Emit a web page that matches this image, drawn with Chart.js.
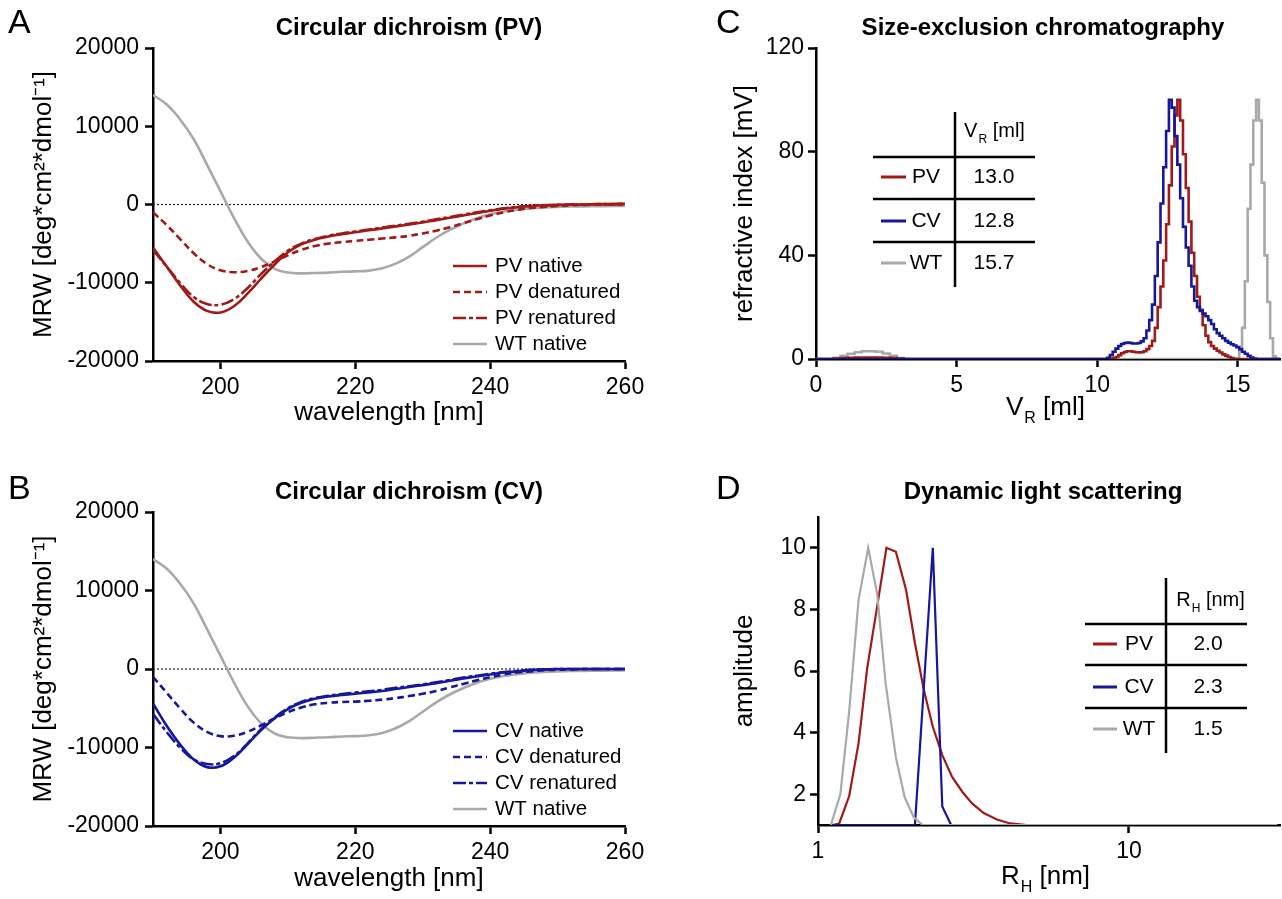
<!DOCTYPE html>
<html><head><meta charset="utf-8">
<script src="https://cdn.jsdelivr.net/npm/chart.js@4.4.1/dist/chart.umd.min.js"></script>
<style>
html,body{margin:0;padding:0;background:#fff;width:1282px;height:899px;overflow:hidden;position:relative;}
canvas{position:absolute;}
</style></head><body>
<canvas id="cA"></canvas><canvas id="cB"></canvas><canvas id="cC"></canvas><canvas id="cD"></canvas>
<script>
const FONT = "'Liberation Sans', Arial, Helvetica, sans-serif";
const RED = '#a01a1a', BLUE = '#17179c', GRAY = '#a9a9a9';

// ---- Circular dichroism (A, B) ----
const cdWavelength = [190,192,194,196,198,200,202,204,206,208,210,212,214,216,218,220,222,224,226,228,230,232,234,236,238,240,242,244,246,248,250,252,254,256,258,260];
const cdTicks = [200,220,240,260];
const mrwTicks = [-20000,-10000,0,10000,20000];
const wtNative = [14000,12800,10900,8400,5100,1700,-1700,-4700,-6900,-8200,-8700,-8800,-8750,-8700,-8600,-8550,-8450,-8150,-7550,-6650,-5450,-4250,-3250,-2450,-1750,-1250,-900,-650,-480,-370,-300,-260,-240,-220,-200,-200];
const pvNative = [-5500,-7900,-10300,-12400,-13600,-13800,-13000,-11400,-9500,-7700,-6100,-5100,-4500,-4100,-3800,-3550,-3300,-3050,-2800,-2550,-2300,-2000,-1700,-1400,-1100,-800,-550,-350,-200,-100,-50,0,0,50,50,100];
const pvDenatured = [-1000,-2600,-4400,-6200,-7600,-8400,-8650,-8500,-8000,-7300,-6500,-5800,-5300,-5000,-4800,-4650,-4500,-4350,-4200,-4000,-3700,-3350,-2900,-2400,-1900,-1400,-1000,-700,-450,-300,-200,-100,-50,0,0,0];
const pvRenatured = [-5800,-7900,-10000,-11800,-12700,-12800,-12100,-10700,-8900,-7300,-5900,-5000,-4400,-4000,-3700,-3450,-3200,-2950,-2700,-2450,-2200,-1900,-1600,-1300,-1000,-750,-500,-300,-150,-100,-50,0,0,50,50,100];
const cvNative = [-4400,-7200,-9600,-11500,-12500,-12400,-11300,-9600,-7800,-6300,-5100,-4300,-3800,-3500,-3300,-3150,-3000,-2800,-2550,-2300,-2050,-1800,-1500,-1200,-950,-700,-450,-300,-150,-50,0,0,0,0,0,0];
const cvDenatured = [-1000,-3000,-5000,-6800,-8000,-8550,-8500,-8000,-7200,-6300,-5500,-4900,-4500,-4300,-4200,-4150,-4050,-3900,-3700,-3450,-3150,-2800,-2350,-1900,-1450,-1050,-700,-450,-300,-150,-100,-50,0,0,0,0];
const cvRenatured = [-5700,-8000,-10000,-11500,-12100,-12000,-11100,-9500,-7700,-6200,-5000,-4200,-3700,-3400,-3200,-3000,-2850,-2650,-2400,-2200,-1950,-1700,-1400,-1100,-850,-600,-400,-250,-100,-50,0,0,0,0,0,0];
const zeroLineX = [190,260];
const zeroLineY = [0,0];

// ---- Size-exclusion chromatography (C) ----
const secVolume = [0,0.5,0.75,1.0,1.25,1.5,1.75,2.0,2.25,2.5,2.75,3.0,3.25,3.5,
 10.0,10.1,10.2,10.3,10.4,10.5,10.6,10.7,10.8,10.9,11.0,11.1,11.2,11.3,11.4,11.5,11.6,11.7,11.8,11.9,
 12.0,12.1,12.2,12.3,12.4,12.5,12.6,12.7,12.8,12.9,13.0,13.1,13.2,13.3,13.4,13.5,13.6,13.7,13.8,13.9,
 14.0,14.1,14.2,14.3,14.4,14.5,14.6,14.7,14.8,14.9,15.0,15.1,15.2,15.3,15.4,15.5,15.6,15.7,15.8,15.9,
 16.0,16.1,16.2,16.3,16.4,16.5];
const secPV = [0,0,0.2,0.4,0.5,0.6,0.6,0.6,0.6,0.5,0.4,0.2,0,0,
 0,0,0,0,0,0,0.3,0.8,1.5,2.2,2.7,3.0,3.0,2.8,2.6,2.5,2.6,3.0,3.8,5,
 7,12,20,28,38,52,67,82,94,100,92,79,66,53,41,32,24,19,13,9,
 6.5,5,4,3.2,2.5,1.8,1.3,0.8,0.4,0.1,0,0,0,0,0,0,0,0,0,0,
 0,0,0,0,0,0];
const secCV = [0,0,0,0,0,0,0,0,0,0,0,0,0,0,
 0,0,0,0,0.5,1.5,2.8,4,5,5.8,6.2,6.3,6.2,6.0,6.0,6.2,6.8,8,11,15,
 21,32,45,60,74,88,100,97,86,75,62,51,43,36,28,22.5,20,18.5,17.5,16.5,
 15,13.5,11.5,10,9,8,7,6.3,5.7,5.2,4.6,3.8,2.8,2,1.2,0.6,0.2,0,0,0,
 0,0,0,0,0,0];
const secWT = [0,0,0.5,1.2,2.0,2.6,3.0,3.0,2.8,2.1,1.2,0.4,0,0,
 0,0,0,0,0,0,0,0,0,0,0,0,0,0,0,0,0,0,0,0,
 0,0,0,0,0,0,0,0,0,0,0,0,0,0,0,0,0,0,0,0,
 0,0,0,0,0,0,0,0,0,0,0,3,12,30,58,75,92,100,92,68,
 40,22,8,1,0,0];
const secXTicks = [0,5,10,15];
const secYTicks = [0,40,80,120];
const secTable = [['PV','13.0'],['CV','12.8'],['WT','15.7']];

// ---- Dynamic light scattering (D) ----
const dlsRadiusWT = [1.10,1.18,1.26,1.35,1.45,1.55,1.65,1.78,1.90,2.03,2.17,30];
const dlsAmpWT = [1,2.0,4.7,8.3,10,8.5,5.6,3.2,1.9,1.26,1,1];
const dlsRadiusPV = [1.11,1.17,1.26,1.35,1.44,1.55,1.66,1.78,1.92,2.05,2.19,2.34,2.51,2.70,2.91,3.13,3.41,3.76,4.15,4.7,30];
const dlsAmpPV = [1,1.05,1.94,3.65,6.1,8.1,10,9.87,8.63,6.9,5.38,4.19,3.27,2.56,2.08,1.7,1.39,1.18,1.05,1,1];
const dlsRadiusCV = [1.11,2.05,2.34,2.51,2.68,30];
const dlsAmpCV = [1,1,10,1.6,1,1];
const dlsXTicks = [1,10];
const dlsYTicks = [2,4,6,8,10];
const dlsTable = [['PV','2.0'],['CV','2.3'],['WT','1.5']];

// ---------- helpers ----------
const pts = (xs, ys) => xs.map((x, i) => ({x: x, y: ys[i]}));
function txt(ctx, s, x, y, size, o) {
  o = o || {};
  ctx.font = (o.bold ? 'bold ' : '') + size + 'px ' + FONT;
  ctx.fillStyle = o.color || '#000';
  ctx.textAlign = o.align || 'left';
  ctx.textBaseline = 'middle';
  ctx.fillText(s, x, y);
}
function subTxt(ctx, base, sub, rest, cx, cy, size) {
  const ss = Math.round(size * 0.6);
  ctx.font = size + 'px ' + FONT; const w1 = ctx.measureText(base).width; const w3 = ctx.measureText(rest).width;
  ctx.font = ss + 'px ' + FONT; const w2 = ctx.measureText(sub).width;
  let x = cx - (w1 + w2 + w3) / 2;
  ctx.fillStyle = '#000'; ctx.textAlign = 'left'; ctx.textBaseline = 'middle';
  ctx.font = size + 'px ' + FONT; ctx.fillText(base, x, cy); x += w1;
  ctx.font = ss + 'px ' + FONT; ctx.fillText(sub, x + 1, cy + size * 0.42); x += w2 + 1;
  ctx.font = size + 'px ' + FONT; ctx.fillText(rest, x, cy);
}
function seg(ctx, x1, y1, x2, y2, color, w, dash) {
  ctx.save(); ctx.beginPath(); ctx.strokeStyle = color; ctx.lineWidth = w; ctx.setLineDash(dash || []);
  ctx.moveTo(x1, y1); ctx.lineTo(x2, y2); ctx.stroke(); ctx.restore();
}
function axis(o) {
  return {
    type: o.type || 'linear', min: o.min, max: o.max,
    afterBuildTicks: s => { s.ticks = o.ticks.map(v => ({value: v})); },
    border: {display: true, color: '#000', width: 2.5},
    grid: {display: true, drawOnChartArea: false, drawTicks: true, tickLength: 8, tickWidth: 2.5, tickColor: '#000', color: '#000'},
    ticks: {color: '#000', font: {family: FONT, size: 23}, padding: o.pad || 5, maxRotation: 0, minRotation: 0, autoSkip: false, callback: v => String(v)},
    title: o.title ? {display: true, text: o.title, color: '#000', font: {family: FONT, size: 26}, padding: o.tpad} : {display: false}
  };
}
function buildPanel(id, box, area, datasets, xs, ys, draw) {
  const cv = document.getElementById(id);
  cv.width = box.w; cv.height = box.h;
  cv.style.left = box.l + 'px'; cv.style.top = box.t + 'px';
  cv.style.width = box.w + 'px'; cv.style.height = box.h + 'px';
  const yW = area.l - box.l, xH = box.t + box.h - area.b;
  xs.afterFit = s => { s.height = xH; };
  ys.afterFit = s => { s.width = yW; };
  return new Chart(cv, {
    type: 'line',
    data: {datasets: datasets},
    options: {
      responsive: false, animation: false, devicePixelRatio: 1,
      layout: {padding: {left: 0, top: area.t - box.t, right: box.l + box.w - area.r, bottom: 0}},
      plugins: {legend: {display: false}, tooltip: {enabled: false}, title: {display: false}},
      elements: {point: {radius: 0}},
      scales: {x: xs, y: ys}
    },
    plugins: [{id: 'annot', afterDraw(chart) {
      const ctx = chart.ctx; ctx.save(); ctx.translate(-box.l, -box.t); draw(ctx, chart); ctx.restore();
    }}]
  });
}
const DASH_DEN = [7, 4], DASH_REN = [13, 3, 4, 3];
function cdDatasets(nat, den, ren, col) {
  const base = {fill: false, pointRadius: 0, tension: 0.4, borderWidth: 2.6};
  return [
    Object.assign({label: 'native', data: pts(cdWavelength, nat), borderColor: col}, base),
    Object.assign({label: 'renatured', data: pts(cdWavelength, ren), borderColor: col, borderDash: DASH_REN}, base),
    Object.assign({label: 'denatured', data: pts(cdWavelength, den), borderColor: col, borderDash: DASH_DEN}, base),
    Object.assign({label: 'WT native', data: pts(cdWavelength, wtNative), borderColor: GRAY}, base),
    {label: 'zero', data: pts(zeroLineX, zeroLineY), borderColor: '#222', borderWidth: 1.2, borderDash: [2, 2], pointRadius: 0}
  ];
}
function cdLegend(ctx, names, col, rows) {
  const dashes = [[], DASH_DEN, DASH_REN, []];
  const cols = [col, col, col, GRAY];
  for (let i = 0; i < 4; i++) {
    seg(ctx, 453, rows[i], 487, rows[i], cols[i], 2.6, dashes[i]);
    txt(ctx, names[i], 495, rows[i], 20.5);
  }
}
const MRW = 'MRW [deg*cm\u00B2*dmol\u207B\u00B9]';

// Panel A
buildPanel('cA', {l: 0, t: 0, w: 680, h: 440}, {l: 153, t: 48, r: 625, b: 361},
  cdDatasets(pvNative, pvDenatured, pvRenatured, RED),
  axis({min: 190, max: 260, ticks: cdTicks, title: 'wavelength [nm]', tpad: {top: 0, bottom: 12}}),
  axis({min: -20000, max: 20000, ticks: mrwTicks, title: MRW, tpad: {top: 28, bottom: 0}, pad: 6}),
  (ctx) => {
    txt(ctx, 'A', 8, 24, 34);
    txt(ctx, 'Circular dichroism (PV)', 409, 28, 24, {bold: true, align: 'center'});
    cdLegend(ctx, ['PV native', 'PV denatured', 'PV renatured', 'WT native'], RED, [266, 292, 318, 344]);
  });

// Panel B
buildPanel('cB', {l: 0, t: 440, w: 680, h: 459}, {l: 153, t: 512, r: 625, b: 826},
  cdDatasets(cvNative, cvDenatured, cvRenatured, BLUE),
  axis({min: 190, max: 260, ticks: cdTicks, title: 'wavelength [nm]', tpad: {top: 0, bottom: 5}}),
  axis({min: -20000, max: 20000, ticks: mrwTicks, title: MRW, tpad: {top: 28, bottom: 0}, pad: 6}),
  (ctx) => {
    txt(ctx, 'B', 8, 490, 34);
    txt(ctx, 'Circular dichroism (CV)', 409, 492, 24, {bold: true, align: 'center'});
    cdLegend(ctx, ['CV native', 'CV denatured', 'CV renatured', 'WT native'], BLUE, [731, 757, 783, 809]);
  });

// Panel C
const secBase = {fill: false, pointRadius: 0, stepped: 'middle', borderWidth: 2.6};
buildPanel('cC', {l: 680, t: 0, w: 602, h: 440}, {l: 816, t: 48, r: 1280, b: 359},
  [
    Object.assign({label: 'CV', data: pts(secVolume, secCV), borderColor: BLUE}, secBase),
    Object.assign({label: 'PV', data: pts(secVolume, secPV), borderColor: RED}, secBase),
    Object.assign({label: 'WT', data: pts(secVolume, secWT), borderColor: GRAY}, secBase)
  ],
  axis({min: 0, max: 16.5, ticks: secXTicks}),
  axis({min: 0, max: 120, ticks: secYTicks, title: 'refractive index [mV]', tpad: {top: 49, bottom: 0}, pad: 4}),
  (ctx) => {
    txt(ctx, 'C', 716, 24, 34);
    txt(ctx, 'Size-exclusion chromatography', 1043, 28, 24, {bold: true, align: 'center'});
    subTxt(ctx, 'V', 'R', ' [ml]', 1045, 408, 26);
    // table
    seg(ctx, 955, 112, 955, 287, '#000', 2.5);
    [157, 199, 242].forEach(y => seg(ctx, 873, y, 1035, y, '#000', 2.5));
    subTxt(ctx, 'V', 'R', ' [ml]', 994, 131, 20);
    const rows = [177, 221, 263], cols = [RED, BLUE, GRAY];
    secTable.forEach((r, i) => {
      seg(ctx, 881, rows[i], 906, rows[i], cols[i], 3);
      txt(ctx, r[0], 926, rows[i], 21, {align: 'center'});
      txt(ctx, r[1], 994, rows[i], 21, {align: 'center'});
    });
  });

// Panel D
const dlsBase = {fill: false, pointRadius: 0, borderWidth: 2.2, tension: 0};
buildPanel('cD', {l: 680, t: 440, w: 602, h: 459}, {l: 818, t: 517, r: 1280, b: 825},
  [
    Object.assign({label: 'WT', data: pts(dlsRadiusWT, dlsAmpWT), borderColor: GRAY}, dlsBase),
    Object.assign({label: 'CV', data: pts(dlsRadiusCV, dlsAmpCV), borderColor: BLUE}, dlsBase),
    Object.assign({label: 'PV', data: pts(dlsRadiusPV, dlsAmpPV), borderColor: RED}, dlsBase)
  ],
  axis({type: 'logarithmic', min: 1, max: 30.6, ticks: dlsXTicks}),
  axis({min: 1, max: 11, ticks: dlsYTicks, title: 'amplitude', tpad: {top: 49, bottom: 0}, pad: 4}),
  (ctx) => {
    txt(ctx, 'D', 716, 490, 34);
    txt(ctx, 'Dynamic light scattering', 1043, 492, 24, {bold: true, align: 'center'});
    subTxt(ctx, 'R', 'H', ' [nm]', 1045, 877, 26);
    seg(ctx, 1166, 578, 1166, 753, '#000', 2.5);
    [624, 665, 708].forEach(y => seg(ctx, 1085, y, 1247, y, '#000', 2.5));
    subTxt(ctx, 'R', 'H', ' [nm]', 1210, 600, 20);
    const rows = [644, 687, 729], cols = [RED, BLUE, GRAY];
    dlsTable.forEach((r, i) => {
      seg(ctx, 1093, rows[i], 1117, rows[i], cols[i], 3);
      txt(ctx, r[0], 1139, rows[i], 21, {align: 'center'});
      txt(ctx, r[1], 1208, rows[i], 21, {align: 'center'});
    });
  });
</script>
</body></html>
